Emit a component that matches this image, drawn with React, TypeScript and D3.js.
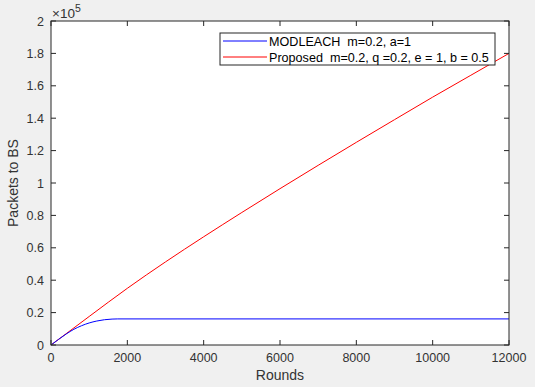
import React from "react";
import * as d3 from "d3";

const xTicks = [0, 2000, 4000, 6000, 8000, 10000, 12000];
const yTicks = [0, 0.2, 0.4, 0.6, 0.8, 1, 1.2, 1.4, 1.6, 1.8, 2];
const yTickLabels = ["0", "0.2", "0.4", "0.6", "0.8", "1", "1.2", "1.4", "1.6", "1.8", "2"];

const modleachRounds = [0, 200, 400, 600, 800, 1000, 1200, 1400, 1600, 1750, 12000];
const modleachPackets = [0, 0.035, 0.068, 0.097, 0.119, 0.136, 0.148, 0.156, 0.16, 0.161, 0.161];

const proposedRounds = [0, 1000, 2000, 3000, 4000, 5000, 6000, 7000, 8000, 9000, 10000, 11000, 12000];
const proposedPackets = [0, 0.176, 0.35, 0.513, 0.668, 0.818, 0.965, 1.109, 1.251, 1.391, 1.53, 1.665, 1.8];

const legendLabels = ["MODLEACH  m=0.2, a=1", "Proposed  m=0.2, q =0.2, e = 1, b = 0.5"];
const seriesColors = ["#0000ff", "#ff0000"];

const W = 535;
const H = 387;
const L = 51, R = 509, T = 21, B = 345;
const FONT = "'Liberation Sans', Arial, Helvetica, sans-serif";
const TXT = "#333333";

export default function App() {
  const x = d3.scaleLinear().domain([0, 12000]).range([L, R]);
  const y = d3.scaleLinear().domain([0, 2]).range([B, T]);
  const line = d3.line<[number, number]>().x(d => x(d[0])).y(d => y(d[1])).curve(d3.curveMonotoneX);
  const s1 = modleachRounds.map((r, i) => [r, modleachPackets[i]] as [number, number]);
  const s2 = proposedRounds.map((r, i) => [r, proposedPackets[i]] as [number, number]);
  const tl = 5;
  return (
    <svg width={W} height={H} style={{ position: "absolute", left: 0, top: 0, display: "block" }}>
      <rect x={0} y={0} width={W} height={H} fill="#f0f0f0" />
      <rect x={L} y={T} width={R - L} height={B - T} fill="#ffffff" />
      <path d={line(s2) || ""} fill="none" stroke={seriesColors[1]} strokeWidth={1} />
      <path d={line(s1) || ""} fill="none" stroke={seriesColors[0]} strokeWidth={1} />
      <g stroke="#262626" strokeWidth={1}>
        {xTicks.map(t => (
          <g key={"x" + t}>
            <line x1={x(t)} x2={x(t)} y1={B} y2={B - tl} />
            <line x1={x(t)} x2={x(t)} y1={T} y2={T + tl} />
          </g>
        ))}
        {yTicks.map(t => (
          <g key={"y" + t}>
            <line x1={L} x2={L + tl} y1={y(t)} y2={y(t)} />
            <line x1={R} x2={R - tl} y1={y(t)} y2={y(t)} />
          </g>
        ))}
        <rect x={L} y={T} width={R - L} height={B - T} fill="none" />
      </g>
      <g fontFamily={FONT} fontSize={12.5} fill={TXT}>
        {xTicks.map(t => (
          <text key={"xl" + t} x={x(t)} y={362} textAnchor="middle">{t}</text>
        ))}
        {yTicks.map((t, i) => (
          <text key={"yl" + t} x={44} y={y(t) + 4.5} textAnchor="end">{yTickLabels[i]}</text>
        ))}
        <text x={52} y={17.5} fontSize={13.5}>
          ×10<tspan fontSize={10.5} dy={-6}>5</tspan>
        </text>
      </g>
      <text x={(L + R) / 2} y={380} textAnchor="middle" fontFamily={FONT} fontSize={14} fill={TXT}>Rounds</text>
      <text transform={`translate(18,${(T + B) / 2}) rotate(-90)`} textAnchor="middle" fontFamily={FONT} fontSize={14} fill={TXT}>Packets to BS</text>
      <g>
        <rect x={220} y={33} width={275} height={32} fill="#ffffff" stroke="#262626" strokeWidth={1} />
        {legendLabels.map((lab, i) => (
          <g key={lab}>
            <line x1={223} x2={267} y1={41 + i * 16} y2={41 + i * 16} stroke={seriesColors[i]} strokeWidth={1} />
            <text x={269} y={45.5 + i * 16} fontFamily={FONT} fontSize={12.6} fill="#000" style={{ whiteSpace: "pre" }}>{lab}</text>
          </g>
        ))}
      </g>
    </svg>
  );
}
